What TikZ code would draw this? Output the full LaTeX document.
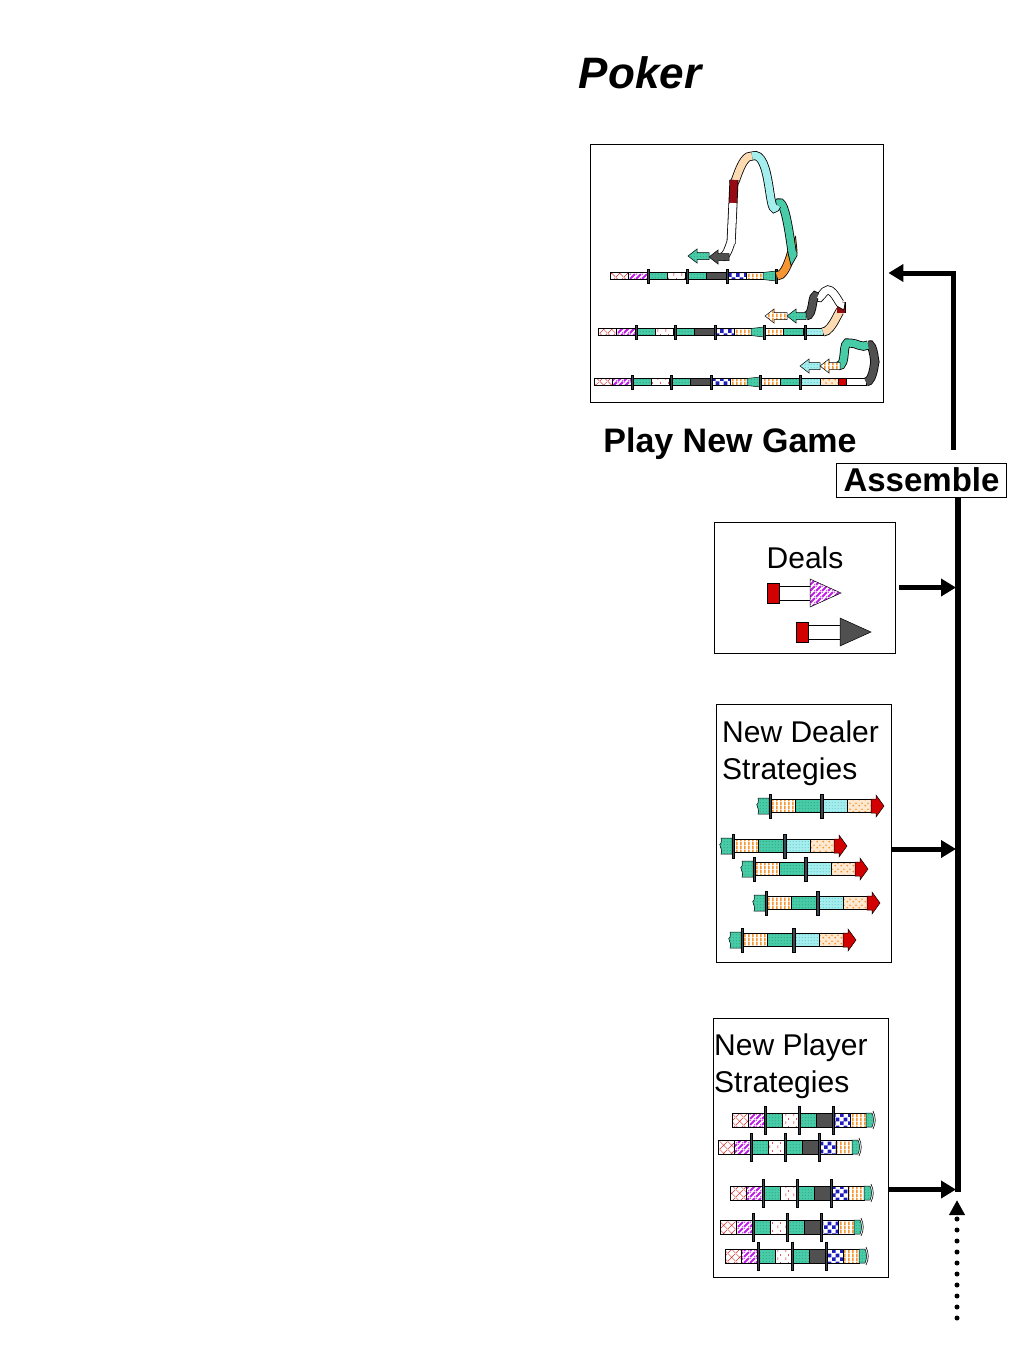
\documentclass[tikz,border=0pt]{standalone}
\usepackage{fontspec}
\setmainfont{Liberation Sans}
\usetikzlibrary{positioning,calc,patterns,arrows.meta}

\definecolor{tealc}{RGB}{72,204,168}
\definecolor{tealdk}{RGB}{25,120,95}
\definecolor{cyanc}{RGB}{165,238,238}
\definecolor{cyandk}{RGB}{50,160,175}
\definecolor{orangec}{RGB}{245,150,50}
\definecolor{peachc}{RGB}{252,218,178}
\definecolor{purplec}{RGB}{190,30,230}
\definecolor{redc}{RGB}{210,0,0}
\definecolor{darkredc}{RGB}{150,10,20}
\definecolor{dkgrayc}{RGB}{80,80,80}
\definecolor{bluec}{RGB}{30,30,190}
\definecolor{barc}{RGB}{60,70,80}

% fill patterns of the gene blocks
\pgfdeclarepatternformonly{vstripes}{\pgfpointorigin}{\pgfpoint{4pt}{4pt}}{\pgfpoint{4pt}{4pt}}{%
  \pgfpathrectangle{\pgfpointorigin}{\pgfpoint{2pt}{4pt}}\pgfusepath{fill}}
\pgfdeclarepatternformonly{dstripes}{\pgfpointorigin}{\pgfpoint{6pt}{6pt}}{\pgfpoint{6pt}{6pt}}{%
  \pgfpathmoveto{\pgfpoint{0pt}{0pt}}\pgfpathlineto{\pgfpoint{1.6pt}{0pt}}\pgfpathlineto{\pgfpoint{6pt}{4.4pt}}%
  \pgfpathlineto{\pgfpoint{6pt}{6pt}}\pgfpathlineto{\pgfpoint{4.4pt}{6pt}}\pgfpathlineto{\pgfpoint{0pt}{1.6pt}}\pgfpathclose
  \pgfpathmoveto{\pgfpoint{0pt}{4.4pt}}\pgfpathlineto{\pgfpoint{0pt}{6pt}}\pgfpathlineto{\pgfpoint{1.6pt}{6pt}}\pgfpathclose
  \pgfpathmoveto{\pgfpoint{4.4pt}{0pt}}\pgfpathlineto{\pgfpoint{6pt}{0pt}}\pgfpathlineto{\pgfpoint{6pt}{1.6pt}}\pgfpathclose
  \pgfusepath{fill}}
\pgfdeclarepatternformonly{checks}{\pgfpointorigin}{\pgfpoint{8pt}{8pt}}{\pgfpoint{8pt}{8pt}}{%
  \pgfpathrectangle{\pgfpointorigin}{\pgfpoint{4pt}{4pt}}\pgfpathrectangle{\pgfpoint{4pt}{4pt}}{\pgfpoint{4pt}{4pt}}\pgfusepath{fill}}
\pgfdeclarepatternformonly{fdots}{\pgfpointorigin}{\pgfpoint{3pt}{3pt}}{\pgfpoint{3pt}{3pt}}{%
  \pgfpathcircle{\pgfpoint{1.5pt}{1.5pt}}{0.55pt}\pgfusepath{fill}}
\pgfdeclarepatternformonly{blobs}{\pgfpointorigin}{\pgfpoint{6pt}{6pt}}{\pgfpoint{6pt}{6pt}}{%
  \pgfpathcircle{\pgfpoint{1.5pt}{1.5pt}}{1.1pt}\pgfpathcircle{\pgfpoint{4.5pt}{4.2pt}}{1pt}\pgfusepath{fill}}
\pgfdeclarepatternformonly{xcross}{\pgfpointorigin}{\pgfpoint{8pt}{8pt}}{\pgfpoint{8pt}{8pt}}{%
  \pgfsetlinewidth{0.5pt}\pgfpathmoveto{\pgfpointorigin}\pgfpathlineto{\pgfpoint{8pt}{8pt}}%
  \pgfpathmoveto{\pgfpoint{0pt}{8pt}}\pgfpathlineto{\pgfpoint{8pt}{0pt}}\pgfusepath{stroke}}
\pgfdeclarepatternformonly{ticks}{\pgfpointorigin}{\pgfpoint{8pt}{8pt}}{\pgfpoint{8pt}{8pt}}{%
  \pgfsetlinewidth{0.7pt}\pgfpathmoveto{\pgfpoint{2pt}{1pt}}\pgfpathlineto{\pgfpoint{2pt}{4pt}}%
  \pgfpathmoveto{\pgfpoint{5pt}{5.5pt}}\pgfpathlineto{\pgfpoint{5pt}{7.5pt}}\pgfusepath{stroke}}

\tikzset{
  seg/.style={draw=black, line width=0.5pt},
  redx/.style={seg, preaction={fill=white}, pattern=xcross, pattern color=redc!80},
  purp/.style={seg, preaction={fill=white}, pattern=dstripes, pattern color=purplec},
  teald/.style={seg, preaction={fill=tealc}, pattern=fdots, pattern color=tealdk},
  whr/.style={seg, preaction={fill=white}, pattern=ticks, pattern color=redc},
  dkg/.style={seg, fill=dkgrayc},
  bluck/.style={seg, preaction={fill=white}, pattern=checks, pattern color=bluec},
  orst/.style={seg, preaction={fill=white}, pattern=vstripes, pattern color=orangec},
  cyand/.style={seg, preaction={fill=cyanc}, pattern=fdots, pattern color=cyandk},
  ordot/.style={seg, preaction={fill=peachc!60!white}, pattern=blobs, pattern color=orangec},
  redsol/.style={seg, fill=redc},
  plain/.style={seg, fill=white},
  barst/.style={fill=barc, draw=black, line width=0.3pt},
  box/.style={draw, line width=0.8pt, inner sep=0pt},
  txt/.style={inner sep=0pt, font=\fontsize{30}{36}\selectfont},
  feed/.style={line width=5pt, -{Triangle[length=15pt,width=17pt]}},
}

% one block of a strip, a separator bar, a curved band, a left arrow
\newcommand{\piece}[5]{\path[#5] (#1,#3-#4) rectangle (#2,#3+#4);}
\newcommand{\sepbar}[3]{\path[barst] (#1-1.2,#2-#3) rectangle (#1+1.2,#2+#3);}
\newcommand{\band}[2]{\draw[line width=9pt, black] #2; \draw[line width=7.4pt, #1] #2;}
\newcommand{\larrow}[4]{\path[#4] (#1,#3) -- (#1+9,#3-7) -- (#1+9,#3-3.5) -- (#2,#3-3.5)
  -- (#2,#3+3.5) -- (#1+9,#3+3.5) -- (#1+9,#3+7) -- cycle;}

\newcommand{\playerstrip}[2]{%
\begin{scope}[shift={(#1,#2)}]
  \piece{0}{16}{0}{7}{redx} \piece{16}{32}{0}{7}{purp}
  \piece{34}{50}{0}{7}{teald} \piece{50}{66}{0}{7}{whr}
  \piece{68}{84}{0}{7}{teald} \piece{84}{100}{0}{7}{dkg}
  \piece{102}{118}{0}{7}{bluck} \piece{118}{134}{0}{7}{orst}
  \path[teald] (134,-7) -- (140,-7) .. controls (142,-3) and (142,3) .. (140,7) -- (134,7) -- cycle;
  \draw[line width=0.6pt] (141,-9) .. controls (144,-3) and (144,3) .. (141,9);
  \sepbar{33}{0}{14} \sepbar{67}{0}{14} \sepbar{101}{0}{14}
\end{scope}}

\newcommand{\dealerstrip}[2]{%
\begin{scope}[shift={(#1,#2)}]
  \path[teald] (1,-8) -- (12,-8) -- (12,8) -- (1,8) .. controls (4,4) and (-3,-2) .. (1,-3)
    .. controls (3,-5) and (0,-6) .. (1,-8) -- cycle;
  \piece{14}{38}{0}{6.5}{orst} \piece{38}{63}{0}{6.5}{teald}
  \piece{66}{90}{0}{6.5}{cyand} \piece{90}{114}{0}{6.5}{ordot}
  \path[redsol] (114,-7) -- (119,-7) -- (119,-11) -- (127,0) -- (119,11) -- (119,7) -- (114,7) -- cycle;
  \sepbar{13}{0}{12} \sepbar{64.5}{0}{12}
\end{scope}}

\newcommand{\gamestrip}[2]{%
\begin{scope}[shift={(#1,#2)}]
  \piece{0}{18.5}{0}{3.5}{redx} \piece{18.5}{37}{0}{3.5}{purp}
  \piece{39}{57}{0}{3.5}{teald} \piece{57}{75}{0}{3.5}{whr}
  \piece{78}{96}{0}{3.5}{teald} \piece{96}{116}{0}{3.5}{dkg}
  \piece{118}{136}{0}{3.5}{bluck} \piece{136}{153}{0}{3.5}{orst}
  \path[teald] (153,-3.5) -- (166,-5) -- (166,5) -- (153,3.5) -- cycle;
  \sepbar{38}{0}{7} \sepbar{77}{0}{7} \sepbar{117}{0}{7} \sepbar{166}{0}{7}
\end{scope}}

\begin{document}
\begin{tikzpicture}[x=1pt,y=-1pt]
  \useasboundingbox (0,0) rectangle (1024,1365);

  % Title
  \node[inner sep=0pt, anchor=base, font=\fontsize{44}{50}\selectfont\bfseries\itshape] (poker) at (640,88) {Poker};

  % Boxes
  \node[box, minimum width=293pt, minimum height=258pt] (game) at (736.5,273) {};
  \node[box, minimum width=181pt, minimum height=131pt] (deals) at (804.5,587.5) {};
  \node[box, minimum width=175pt, minimum height=258pt] (dealer) at (803.5,833) {};
  \node[box, minimum width=175pt, minimum height=259pt] (player) at (800.5,1147.5) {};
  \node[box, minimum width=170pt, minimum height=34pt, font=\fontsize{33}{38}\selectfont\bfseries] (assemble) at (921.5,480) {Assemble};

  % Labels
  \node[txt, anchor=base, font=\fontsize{34}{40}\selectfont\bfseries] (gamelabel) at (730,452) {Play New Game};
  \node[txt, anchor=base] (dealslabel) at (805,568) {Deals};
  \node[txt, anchor=base west] (dealerlabel) at (722,742) {New Dealer};
  \node[txt, anchor=base west] (dealerlabelb) at (722,779) {Strategies};
  \node[txt, anchor=base west] (playerlabel) at (714,1055) {New Player};
  \node[txt, anchor=base west] (playerlabelb) at (714,1092) {Strategies};

  % Assembled games
  \gamestrip{610}{276}
  \band{orangec}{(777,276) to[out=0,in=90] (793,252)}
  \band{tealc}{(793,252) to[out=-90,in=60] (777,205)}
  \band{cyanc}{(777,205) to[out=-115,in=20] (752,156)}
  \band{peachc}{(752,156) to[out=170,in=-90] (734,180)}
  \band{darkredc}{(734,180) -- (733,203)}
  \band{white}{(733,203) -- (731,244) to[out=90,in=0] (722,257)}
  \larrow{709}{729}{257}{dkg}
  \larrow{688}{709}{256}{teald}

  \gamestrip{598}{332}
  \piece{765}{783}{332}{3.5}{orst} \piece{783}{803}{332}{3.5}{teald}
  \piece{806}{823}{332}{3.5}{cyand} \sepbar{805}{332}{7}
  \band{peachc}{(823,332) to[out=0,in=90] (841,313)}
  \band{darkredc}{(841,313) -- (841,302)}
  \band{white}{(841,302) to[out=-90,in=0] (828,290) to[out=180,in=-45] (817,297)}
  \band{dkgrayc}{(817,297) to[out=135,in=0] (806,316)}
  \larrow{787}{806}{316}{teald}
  \larrow{765}{787}{316}{orst}

  \gamestrip{594}{382}
  \piece{761}{780}{382}{3.5}{orst} \piece{780}{799}{382}{3.5}{teald}
  \piece{801}{820}{382}{3.5}{cyand} \piece{820}{838}{382}{3.5}{ordot}
  \piece{838}{846}{382}{3.5}{redsol} \piece{846}{866}{382}{3.5}{plain}
  \sepbar{800}{382}{7}
  \band{dkgrayc}{(866,382) to[out=0,in=90] (875,362) to[out=-90,in=30] (868,345)}
  \band{tealc}{(868,345) to[out=-150,in=0] (850,343) to[out=160,in=0] (838,366)}
  \larrow{820}{840}{366}{orst}
  \larrow{800}{820}{366}{cyand}

  % Deals
  \piece{779}{810}{593}{7}{plain}
  \path[redsol] (767,583) rectangle (779,603);
  \path[purp] (810,579) -- (841,593) -- (810,607) -- cycle;
  \piece{808}{840}{632}{7}{plain}
  \path[redsol] (796,622) rectangle (808,642);
  \path[dkg] (840,618) -- (871,632) -- (840,646) -- cycle;

  % Dealer strategies
  \dealerstrip{757}{806}
  \dealerstrip{720}{846}
  \dealerstrip{741}{869}
  \dealerstrip{753}{903}
  \dealerstrip{729}{940}

  % Player strategies
  \playerstrip{732}{1120}
  \playerstrip{718}{1147}
  \playerstrip{730}{1193}
  \playerstrip{720}{1227}
  \playerstrip{725}{1256}

  % Bus and arrows
  \coordinate (busend) at (958,1192);
  \coordinate (upstart) at (953,450);
  \coordinate (dotstart) at (957,1318);
  \draw[line width=5.5pt] (assemble.south -| busend) -- (busend);
  \draw[feed] (upstart) |- ($(game.east)+(5,0)$);
  \draw[feed, shorten >=2pt] ($(deals.east)+(4,0)$) -- (deals.east -| busend);
  \draw[feed, shorten >=2pt] ($(dealer.east)+(1,16)$) -- ($(dealer.east -| busend)+(0,16)$);
  \draw[feed, shorten >=2pt] ($(player.east)+(1,42)$) -- ($(player.east -| busend)+(0,42)$);
  \draw[line width=5pt, line cap=round, dash pattern=on 0pt off 11pt,
    -{Triangle[length=15pt,width=15pt]}] (dotstart) -- ($(busend)+(-1,8)$);
\end{tikzpicture}
\end{document}
